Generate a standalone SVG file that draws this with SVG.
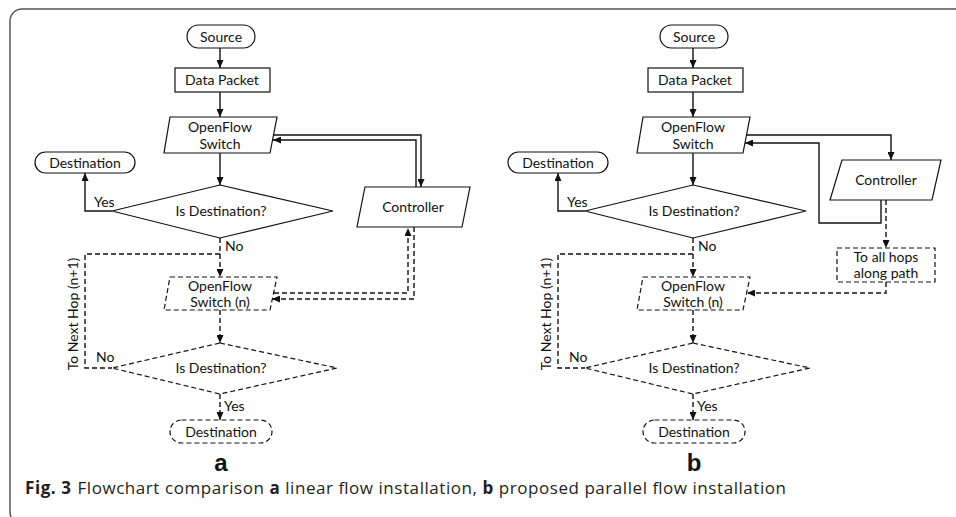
<svg xmlns="http://www.w3.org/2000/svg" width="956" height="517" viewBox="0 0 956 517">
<defs>
<style>
.n{fill:#fff;stroke:#111;stroke-width:1.2}
.d{stroke-dasharray:5 3}
.t{font-family:Lato,"Open Sans","Liberation Sans",sans-serif;font-size:14px;fill:#111;text-anchor:middle}
.l{font-family:Lato,"Open Sans","Liberation Sans",sans-serif;font-size:14px;fill:#111}
.c{fill:none;stroke:#111;stroke-width:1.4}
.cd{fill:none;stroke:#111;stroke-width:1.4;stroke-dasharray:5 3}
.big{font-family:"Liberation Sans",Arial,sans-serif;font-size:24px;font-weight:bold;fill:#111;text-anchor:middle}
.cap{font-family:"Open Sans","Noto Sans",sans-serif;font-size:17px;fill:#231f20}
</style>
<marker id="ah" markerWidth="8" markerHeight="7" refX="8" refY="3.5" orient="auto" markerUnits="userSpaceOnUse">
<path d="M0,0 L8,3.5 L0,7 z" fill="#111"/>
</marker>
</defs>
<rect id="frame" x="10" y="9" width="970" height="515" rx="12" fill="none" stroke="#555" stroke-width="1.5"/>

<g id="connectors">
<!-- panel a -->
<path class="c" d="M220 48 V68" marker-end="url(#ah)"/>
<path class="c" d="M220 92 V117" marker-end="url(#ah)"/>
<path class="c" d="M220 153 V185" marker-end="url(#ah)"/>
<path class="c" d="M112 211 H85 V173" marker-end="url(#ah)"/>
<path class="c" d="M274 135 H421 V187" marker-end="url(#ah)"/>
<path class="c" d="M416 187 V140 H273" marker-end="url(#ah)"/>
<path class="cd" d="M220 238 V277" marker-end="url(#ah)"/>
<path class="cd" d="M220 254 H85 V368 H112"/>
<path class="cd" d="M220 310 V343" marker-end="url(#ah)"/>
<path class="cd" d="M220 394 V420" marker-end="url(#ah)"/>
<path class="cd" d="M274 293 H408 V228" marker-end="url(#ah)"/>
<path class="cd" d="M414 227 V299 H272" marker-end="url(#ah)"/>
<!-- panel b -->
<path class="c" d="M693 48 V68" marker-end="url(#ah)"/>
<path class="c" d="M693 92 V117" marker-end="url(#ah)"/>
<path class="c" d="M693 153 V185" marker-end="url(#ah)"/>
<path class="c" d="M585 211 H558 V173" marker-end="url(#ah)"/>
<path class="c" d="M747 135 H891 V160" marker-end="url(#ah)"/>
<path class="c" d="M881 200 V223 H819 V143 H745" marker-end="url(#ah)"/>
<path class="cd" d="M886 200 V248" marker-end="url(#ah)"/>
<path class="cd" d="M886 282 V293 H747" marker-end="url(#ah)"/>
<path class="cd" d="M693 238 V277" marker-end="url(#ah)"/>
<path class="cd" d="M693 254 H558 V368 H585"/>
<path class="cd" d="M693 310 V343" marker-end="url(#ah)"/>
<path class="cd" d="M693 394 V420" marker-end="url(#ah)"/>
</g>

<g id="labels">
<text class="l" x="94" y="207">Yes</text>
<text class="l" x="225" y="251">No</text>
<text class="l" x="96" y="362">No</text>
<text class="l" x="224" y="411">Yes</text>
<text class="t" transform="translate(78,314) rotate(-90)">To Next Hop (n+1)</text>
<text class="l" x="567" y="207">Yes</text>
<text class="l" x="698" y="251">No</text>
<text class="l" x="569" y="362">No</text>
<text class="l" x="697" y="411">Yes</text>
<text class="t" transform="translate(551,314) rotate(-90)">To Next Hop (n+1)</text>
</g>

<!-- panel a nodes -->
<g id="a-source"><rect class="n" x="187" y="25" width="68" height="23" rx="11.5"/><text class="t" x="221" y="41.5">Source</text></g>
<g id="a-packet"><rect class="n" x="175" y="68" width="95" height="24"/><text class="t" x="222" y="85">Data Packet</text></g>
<g id="a-switch"><polygon class="n" points="170,117 277,117 270,153 164,153"/><text class="t" x="220" y="132">OpenFlow</text><text class="t" x="220" y="149">Switch</text></g>
<g id="a-decision"><polygon class="n" points="220,185 333,211 220,238 112,211"/><text class="t" x="221" y="216">Is Destination?</text></g>
<g id="a-dest"><rect class="n" x="35" y="152" width="100" height="21" rx="10.5"/><text class="t" x="85" y="167.5">Destination</text></g>
<g id="a-controller"><polygon class="n" points="365,187 470,187 462,227 357,227"/><text class="t" x="413" y="212">Controller</text></g>
<g id="a-switchn"><polygon class="n d" points="170,277 277,277 270,310 164,310"/><text class="t" x="220" y="291">OpenFlow</text><text class="t" x="220" y="306.5">Switch (n)</text></g>
<g id="a-decision2"><polygon class="n d" points="220,343 337,368 220,394 112,368"/><text class="t" x="221" y="373">Is Destination?</text></g>
<g id="a-dest2"><rect class="n d" x="170" y="420" width="102" height="23" rx="11.5"/><text class="t" x="221" y="436.5">Destination</text></g>
<text id="label-a" class="big" x="221" y="471">a</text>

<!-- panel b nodes -->
<g id="b-source"><rect class="n" x="660" y="25" width="68" height="23" rx="11.5"/><text class="t" x="694" y="41.5">Source</text></g>
<g id="b-packet"><rect class="n" x="648" y="68" width="95" height="24"/><text class="t" x="695" y="85">Data Packet</text></g>
<g id="b-switch"><polygon class="n" points="643,117 750,117 743,153 637,153"/><text class="t" x="693" y="132">OpenFlow</text><text class="t" x="693" y="149">Switch</text></g>
<g id="b-decision"><polygon class="n" points="693,185 806,211 693,238 585,211"/><text class="t" x="694" y="216">Is Destination?</text></g>
<g id="b-dest"><rect class="n" x="508" y="152" width="100" height="21" rx="10.5"/><text class="t" x="558" y="167.5">Destination</text></g>
<g id="b-controller"><polygon class="n" points="842,160 941,160 932,200 830,200"/><text class="t" x="886" y="185">Controller</text></g>
<g id="b-allhops"><rect class="n d" x="837" y="248" width="98" height="34"/><text class="t" x="886" y="262">To all hops</text><text class="t" x="886" y="278">along path</text></g>
<g id="b-switchn"><polygon class="n d" points="643,277 750,277 743,310 637,310"/><text class="t" x="693" y="291">OpenFlow</text><text class="t" x="693" y="306.5">Switch (n)</text></g>
<g id="b-decision2"><polygon class="n d" points="693,343 810,368 693,394 585,368"/><text class="t" x="694" y="373">Is Destination?</text></g>
<g id="b-dest2"><rect class="n d" x="643" y="420" width="102" height="23" rx="11.5"/><text class="t" x="694" y="436.5">Destination</text></g>
<text id="label-b" class="big" x="694" y="471">b</text>

<text id="caption" class="cap" x="25" y="494" textLength="761" lengthAdjust="spacing"><tspan font-weight="bold">Fig. 3</tspan><tspan dx="6">Flowchart comparison </tspan><tspan font-weight="bold">a</tspan> linear flow installation, <tspan font-weight="bold">b</tspan> proposed parallel flow installation</text>
</svg>
